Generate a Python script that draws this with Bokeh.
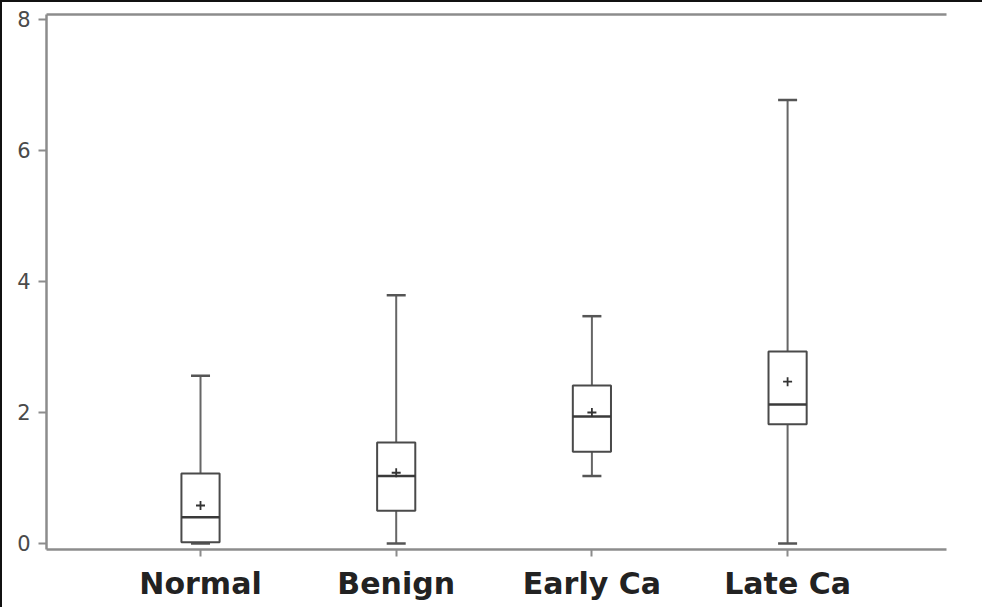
import numpy as np
from bokeh.plotting import figure
from bokeh.models import Range1d, FixedTicker, LinearAxis
from bokeh.embed import file_html
from bokeh.resources import INLINE

# ---- data ----
categories = ["Normal", "Benign", "Early Ca", "Late Ca"]
lower_whisker = [0.00, 0.00, 1.03, 0.00]
q1 = [0.02, 0.50, 1.40, 1.82]
median = [0.40, 1.03, 1.94, 2.12]
q3 = [1.07, 1.54, 2.41, 2.93]
upper_whisker = [2.56, 3.79, 3.47, 6.77]
mean = [0.58, 1.08, 2.00, 2.47]
y_ticks = [0, 2, 4, 6, 8]

# ---- styling ----
AXIS_GRAY = "#8c8c8c"
BOX_COLOR = "#4a4a4a"
BOX_W = 0.195

xs = np.arange(len(categories), dtype=float)

p = figure(
    frame_width=900, frame_height=535,
    min_border_left=44, min_border_right=36,
    min_border_top=12, min_border_bottom=58,
    x_range=Range1d(-0.787, 3.812), y_range=Range1d(-0.092, 8.076),
    output_backend="svg", toolbar_location=None,
)
p.styles = {"border-top": "2px solid #111", "border-left": "2px solid #111"}
p.outline_line_color = None
p.xgrid.visible = False
p.ygrid.visible = False
p.background_fill_color = "white"
p.border_fill_color = "white"

# y axis
p.yaxis.ticker = FixedTicker(ticks=y_ticks)
p.yaxis.axis_line_color = AXIS_GRAY
p.yaxis.axis_line_width = 2.5
p.yaxis.major_tick_line_color = AXIS_GRAY
p.yaxis.major_tick_line_width = 2
p.yaxis.major_tick_out = 8
p.yaxis.major_tick_in = 0
p.yaxis.minor_tick_line_color = None
p.yaxis.major_label_text_font = "DejaVu Sans"
p.yaxis.major_label_text_font_size = "21px"
p.yaxis.major_label_text_color = "#4a4a4a"
p.yaxis.major_label_standoff = 8

# x axis
p.xaxis.ticker = FixedTicker(ticks=list(xs))
p.xaxis.major_label_overrides = {float(i): c for i, c in zip(xs, categories)}
p.xaxis.axis_line_color = AXIS_GRAY
p.xaxis.axis_line_width = 2.5
p.xaxis.major_tick_line_color = AXIS_GRAY
p.xaxis.major_tick_line_width = 2
p.xaxis.major_tick_out = 7
p.xaxis.major_tick_in = 0
p.xaxis.minor_tick_line_color = None
p.xaxis.major_label_text_font = "DejaVu Sans"
p.xaxis.major_label_text_font_style = "bold"
p.xaxis.major_label_text_font_size = "30px"
p.xaxis.major_label_text_color = "#222222"
p.xaxis.major_label_standoff = 9

# top frame line (axis line only)
top_axis = LinearAxis(
    axis_line_color=AXIS_GRAY, axis_line_width=2.5,
    major_tick_line_color=None, minor_tick_line_color=None,
    major_label_text_font_size="0px", major_label_text_color=None,
)
p.add_layout(top_axis, "above")

# whiskers
p.segment(x0=xs, y0=q3, x1=xs, y1=upper_whisker, line_color="#666666", line_width=2)
p.segment(x0=xs, y0=q1, x1=xs, y1=lower_whisker, line_color="#666666", line_width=2)
# caps
p.scatter(x=xs, y=upper_whisker, marker="dash", size=19, line_color="#555555", line_width=2.5)
p.scatter(x=xs, y=lower_whisker, marker="dash", size=19, line_color="#555555", line_width=2.5)
# boxes
p.vbar(x=xs, width=BOX_W, top=q3, bottom=q1, fill_color="white",
       line_color=BOX_COLOR, line_width=2)
# medians
p.segment(x0=xs - BOX_W / 2, y0=median, x1=xs + BOX_W / 2, y1=median,
          line_color="#3a3a3a", line_width=2.5)
# means
p.scatter(x=xs, y=mean, marker="cross", size=9, line_color="#333333", line_width=1.8)

open("out.html", "w").write(file_html(p, INLINE))
